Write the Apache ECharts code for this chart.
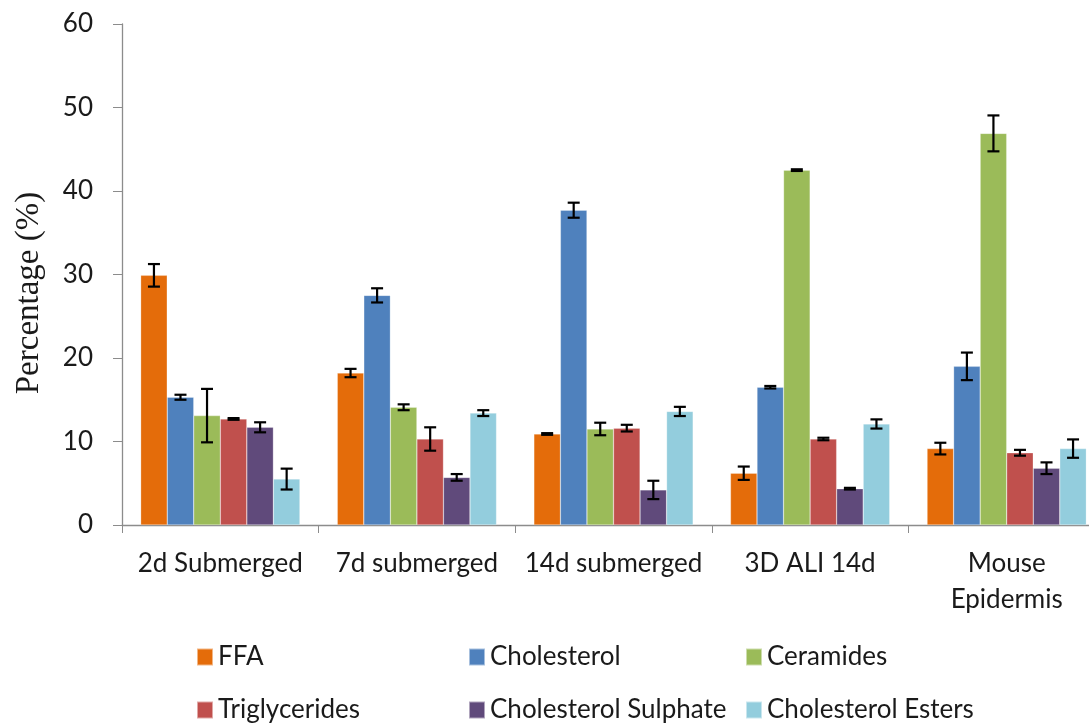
<!DOCTYPE html>
<html>
<head>
<meta charset="utf-8">
<script src="https://cdn.jsdelivr.net/npm/echarts@6/dist/echarts.min.js"></script>
<style>html,body{margin:0;padding:0;background:#fff}#chart{width:1089px;height:724px}</style>
</head>
<body>
<div id="chart"></div>
<script>
var categories = ['2d Submerged', '7d submerged', '14d submerged', '3D ALI 14d', 'Mouse\nEpidermis'];
var seriesNames = ['FFA', 'Cholesterol', 'Ceramides', 'Triglycerides', 'Cholesterol Sulphate', 'Cholesterol Esters'];
var ffa = [29.9, 18.2, 10.9, 6.2, 9.15];
var cholesterol = [15.3, 27.5, 37.7, 16.5, 19.0];
var ceramides = [13.1, 14.1, 11.5, 42.5, 46.9];
var triglycerides = [12.7, 10.3, 11.6, 10.3, 8.65];
var cholSulphate = [11.7, 5.7, 4.2, 4.35, 6.8];
var cholEsters = [5.5, 13.4, 13.6, 12.1, 9.15];
var ffaErr = [1.35, 0.5, 0.1, 0.8, 0.7];
var cholesterolErr = [0.3, 0.85, 0.9, 0.15, 1.65];
var ceramidesErr = [3.2, 0.35, 0.75, 0.1, 2.15];
var triglyceridesErr = [0.1, 1.4, 0.4, 0.15, 0.35];
var cholSulphateErr = [0.6, 0.4, 1.1, 0.1, 0.7];
var cholEstersErr = [1.25, 0.35, 0.55, 0.55, 1.1];
var yTicks = [0, 10, 20, 30, 40, 50, 60];

var values = [ffa, cholesterol, ceramides, triglycerides, cholSulphate, cholEsters];
var errors = [ffaErr, cholesterolErr, ceramidesErr, triglyceridesErr, cholSulphateErr, cholEstersErr];
var colors = ['#E46C0A', '#4F81BD', '#9BBB59', '#C0504D', '#604A7B', '#93CDDD'];
var gapRatio = 0.19;
var nS = seriesNames.length;

var chart = echarts.init(document.getElementById('chart'));
var series = [];
values.forEach(function (vals, i) {
  series.push({
    name: seriesNames[i], type: 'bar', data: vals,
    barGap: '0%', barCategoryGap: (gapRatio * 100) + '%',
    itemStyle: { color: colors[i], borderColor: 'rgba(255,255,255,0.5)', borderWidth: 0.5 }
  });
});
values.forEach(function (vals, i) {
  series.push({
    type: 'custom', name: seriesNames[i] + ' err', silent: true, z: 10,
    data: vals.map(function (v, k) { return [k, v - errors[i][k], v + errors[i][k]]; }),
    renderItem: function (params, api) {
      var k = api.value(0);
      var lo = api.coord([k, api.value(1)]);
      var hi = api.coord([k, api.value(2)]);
      var catW = api.size([1, 0])[0];
      var barW = catW * (1 - gapRatio) / nS;
      var x = lo[0] - catW * (1 - gapRatio) / 2 + (i + 0.5) * barW;
      var cap = 6;
      var st = { stroke: '#000', lineWidth: 2.2 };
      return { type: 'group', children: [
        { type: 'line', shape: { x1: x, y1: lo[1], x2: x, y2: hi[1] }, style: st },
        { type: 'line', shape: { x1: x - cap, y1: lo[1], x2: x + cap, y2: lo[1] }, style: st },
        { type: 'line', shape: { x1: x - cap, y1: hi[1], x2: x + cap, y2: hi[1] }, style: st }
      ] };
    }
  });
});

var legendPos = [[196, 644], [468, 644], [745, 644], [196, 697], [468, 697], [745, 697]];
var legends = seriesNames.map(function (n, i) {
  return {
    data: [n], left: legendPos[i][0], top: legendPos[i][1], padding: 0,
    itemWidth: 16, itemHeight: 17, icon: 'rect', itemGap: 0,
    textStyle: { fontFamily: 'Lato', fontSize: 26, color: '#1a1a1a' },
    selectedMode: false
  };
});

chart.setOption({
  animation: false,
  backgroundColor: '#fff',
  grid: { left: 122, top: 24, width: 983, height: 501, containLabel: false, outerBoundsMode: 'none' },
  legend: legends,
  xAxis: {
    type: 'category', data: categories,
    axisLine: { lineStyle: { color: '#8c8c8c', width: 1.3 } },
    axisTick: { show: true, interval: 0, length: 8, lineStyle: { color: '#8c8c8c' } },
    axisLabel: { interval: 0, hideOverlap: false, fontFamily: 'Lato', fontSize: 26, color: '#1a1a1a', margin: 21, lineHeight: 36 }
  },
  yAxis: {
    type: 'value', min: 0, max: 60, interval: 10,
    splitLine: { show: false },
    axisLine: { show: true, lineStyle: { color: '#8c8c8c', width: 1.3 } },
    axisTick: { show: true, length: 9, lineStyle: { color: '#8c8c8c' } },
    axisLabel: { fontFamily: 'Lato', fontSize: 26, color: '#1a1a1a', margin: 29,
      formatter: function (v) { return yTicks.indexOf(v) >= 0 ? String(v) : ''; } }
  },
  graphic: [{
    type: 'text', x: 29, y: 293, rotation: Math.PI / 2,
    style: { text: 'Percentage (%)', font: '33px "Liberation Serif"', fill: '#1a1a1a',
      textAlign: 'center', textVerticalAlign: 'middle' }
  }],
  series: series
});
</script>
</body>
</html>
